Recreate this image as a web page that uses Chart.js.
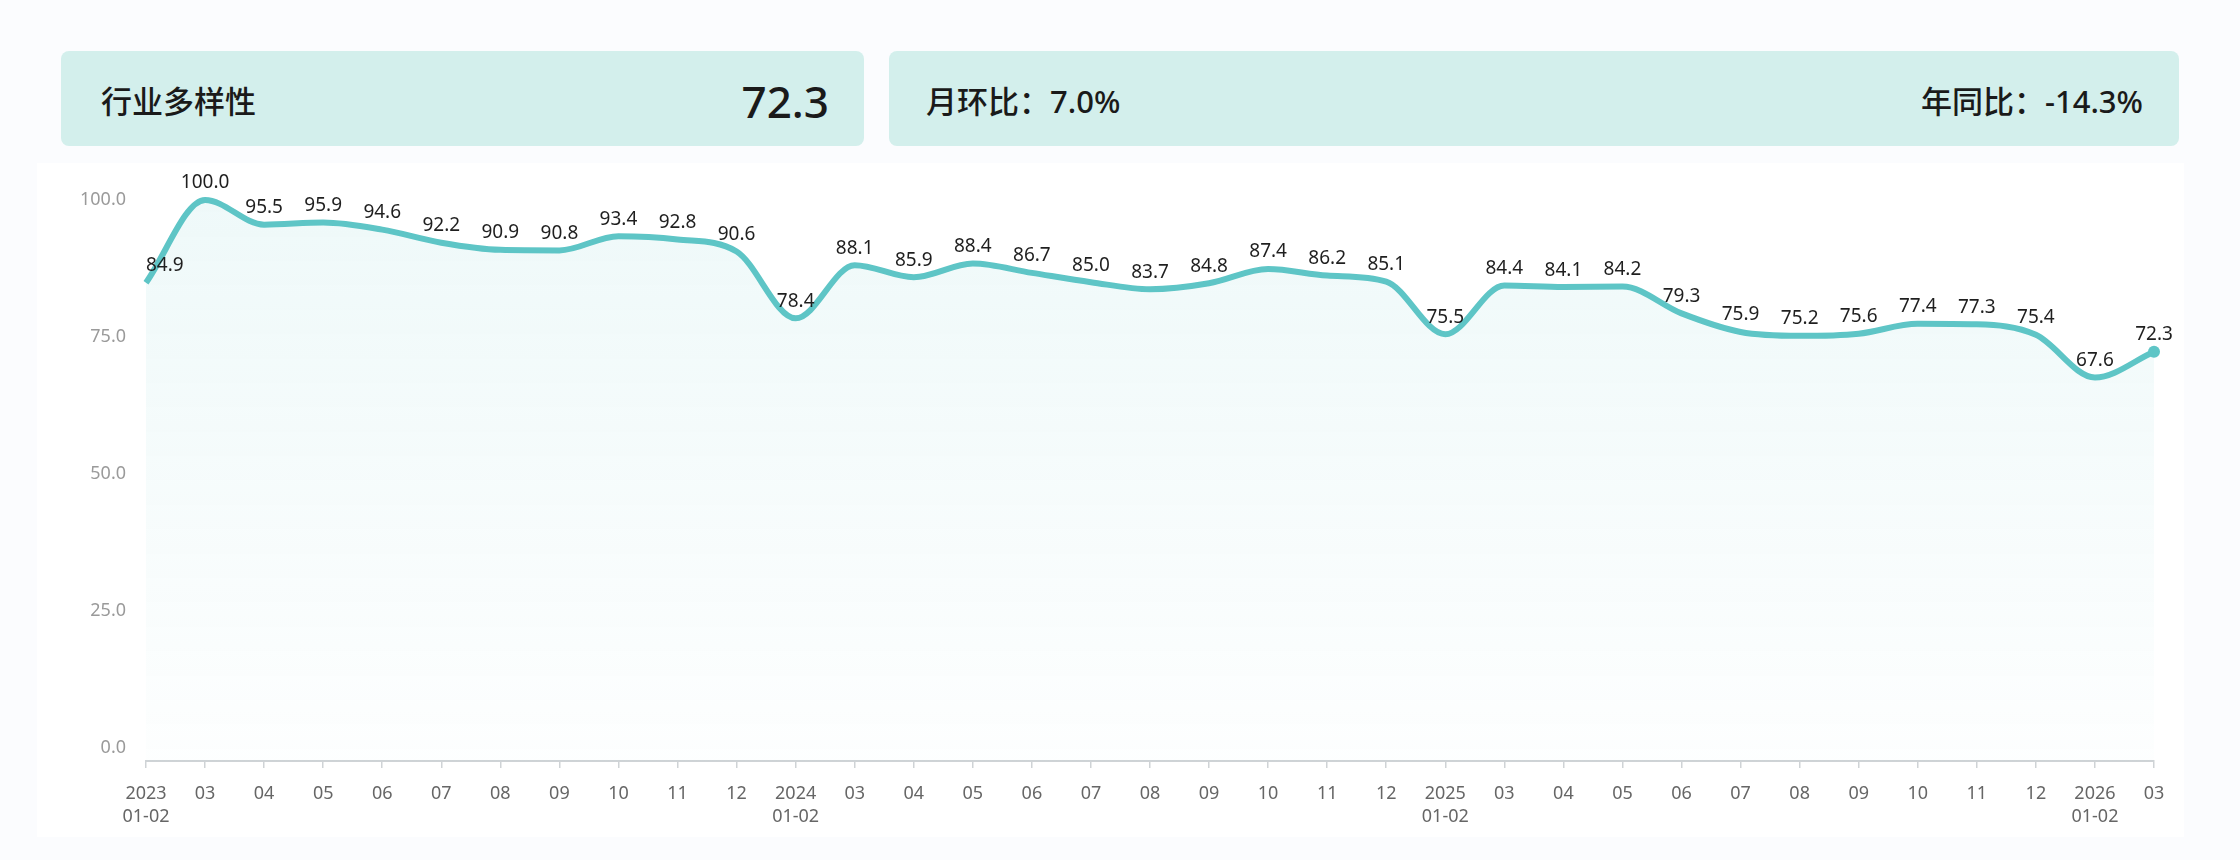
<!DOCTYPE html>
<html><head><meta charset="utf-8">
<script src="https://cdn.jsdelivr.net/npm/chart.js@4.4.1/dist/chart.umd.min.js"></script>
<style>
html,body{margin:0;padding:0;background:#fbfcfe;width:2240px;height:860px;overflow:hidden;font-family:"Noto Sans","Noto Sans CJK SC",sans-serif;}
.panel{position:absolute;left:37px;top:163px;width:2147px;height:674px;background:#ffffff;}
.card{position:absolute;top:51px;height:95px;background:#d3efec;border-radius:8px;color:#1a1a1a;display:flex;align-items:center;justify-content:space-between;box-sizing:border-box;padding-top:5px;font-weight:500;}
.card span{font-size:31px;line-height:1;}
.card .big{font-size:44px;}
#c{position:absolute;left:0;top:0;}
</style></head>
<body>
<div class="panel"></div>
<div class="card" id="card1" style="left:61px;width:803px;padding-left:40px;padding-right:35px;"><span id="t1"></span><span id="v1" class="big"></span></div>
<div class="card" id="card2" style="left:889px;width:1290px;padding-left:37px;padding-right:36px;"><span id="t2"></span><span id="t3"></span></div>
<canvas id="c" width="2240" height="860"></canvas>
<script>
const headerTitle = '行业多样性';
const headerValue = '72.3';
const momText = '月环比：7.0%';
const yoyText = '年同比：-14.3%';

const categories = [
  ['2023','01-02'],'03','04','05','06','07','08','09','10','11','12',
  ['2024','01-02'],'03','04','05','06','07','08','09','10','11','12',
  ['2025','01-02'],'03','04','05','06','07','08','09','10','11','12',
  ['2026','01-02'],'03'
];
const values = [
  84.9,100.0,95.5,95.9,94.6,92.2,90.9,90.8,93.4,92.8,90.6,
  78.4,88.1,85.9,88.4,86.7,85.0,83.7,84.8,87.4,86.2,85.1,
  75.5,84.4,84.1,84.2,79.3,75.9,75.2,75.6,77.4,77.3,75.4,
  67.6,72.3
];
const yTickValues = [0,25,50,75,100];

document.getElementById('t1').textContent = headerTitle;
document.getElementById('v1').textContent = headerValue;
document.getElementById('t2').textContent = momText;
document.getElementById('t3').textContent = yoyText;

Chart.defaults.font.family = '"Noto Sans","Noto Sans CJK SC",sans-serif';

const valueLabels = {
  id: 'valueLabels',
  afterDatasetsDraw(chart) {
    const ctx = chart.ctx;
    const meta = chart.getDatasetMeta(0);
    ctx.save();
    ctx.font = '19px "Noto Sans","Noto Sans CJK SC",sans-serif';
    ctx.fillStyle = '#1f1f1f';
    ctx.textBaseline = 'middle';
    meta.data.forEach((pt, i) => {
      ctx.textAlign = i === 0 ? 'left' : 'center';
      ctx.fillText(values[i].toFixed(1), pt.x, pt.y - 17);
    });
    ctx.restore();
  }
};

new Chart(document.getElementById('c'), {
  type: 'line',
  data: {
    labels: categories,
    datasets: [{
      data: values,
      borderColor: '#5ec5c6',
      borderWidth: 6,
      cubicInterpolationMode: 'monotone',
      fill: 'start',
      backgroundColor: (c) => {
        const a = c.chart.chartArea;
        if (!a) return 'rgba(94,197,198,0.05)';
        const g = c.chart.ctx.createLinearGradient(0, a.top, 0, a.bottom);
        g.addColorStop(0, 'rgba(94,197,198,0.10)');
        g.addColorStop(1, 'rgba(94,197,198,0.01)');
        return g;
      },
      pointRadius: (c) => c.dataIndex === values.length - 1 ? 6 : 0,
      pointBackgroundColor: '#5ec5c6',
      pointBorderWidth: 0,
      pointHoverRadius: 0,
      clip: false
    }]
  },
  options: {
    responsive: false,
    animation: false,
    events: [],
    layout: { padding: { top: 200, right: 86, bottom: 19, left: 0 } },
    plugins: { legend: { display: false }, tooltip: { enabled: false }, title: { display: false } },
    scales: {
      x: {
        type: 'category',
        offset: false,
        grid: { display: true, drawOnChartArea: false, drawTicks: true, tickLength: 7, color: '#cfd3d6', lineWidth: 1.5 },
        border: { display: true, color: '#cfd3d6', width: 2 },
        ticks: { color: '#666', font: { size: 18, lineHeight: 1.28 }, padding: 14, maxRotation: 0, minRotation: 0, autoSkip: false },
        afterFit(s) { s.height = 80; }
      },
      y: {
        min: -2.4,
        max: 100,
        afterBuildTicks(s) { s.ticks = yTickValues.map(v => ({ value: v })); },
        grid: { display: false },
        border: { display: false },
        ticks: { color: '#9a9a9a', font: { size: 18 }, padding: 12, callback: (v) => Number(v).toFixed(1) },
        afterFit(s) { s.width = 146; }
      }
    }
  },
  plugins: [valueLabels]
});
</script>
</body></html>
